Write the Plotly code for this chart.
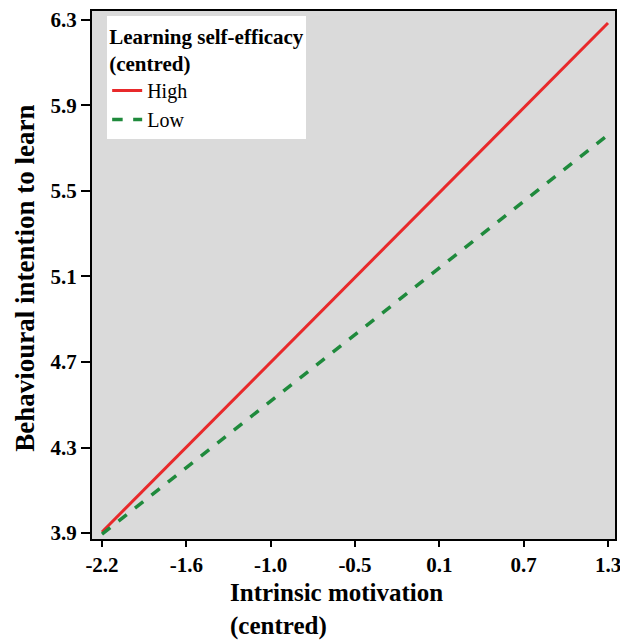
import plotly.graph_objects as go

# Data
x_ends = [-2.2, 1.3]
high_vals = [3.905, 6.286]
low_vals = [3.895, 5.762]
series_names = ["High", "Low"]
x_tick_labels = ["-2.2", "-1.6", "-1.0", "-0.5", "0.1", "0.7", "1.3"]
y_tick_labels = ["3.9", "4.3", "4.7", "5.1", "5.5", "5.9", "6.3"]

n = len(x_tick_labels)
x_tick_vals = [x_ends[0] + i * (x_ends[1] - x_ends[0]) / (n - 1) for i in range(n)]
y_tick_vals = [float(v) for v in y_tick_labels]

FONT = "Liberation Serif, Times New Roman, serif"

fig = go.Figure()
fig.add_trace(go.Scatter(x=x_ends, y=high_vals, mode="lines", name=series_names[0],
                         line=dict(color="#e8292b", width=3)))
fig.add_trace(go.Scatter(x=x_ends, y=low_vals, mode="lines", name=series_names[1],
                         line=dict(color="#1f8a3c", width=3.5, dash="dash")))

xstep = (x_ends[1] - x_ends[0]) / (n - 1)
# page body has an 8px default margin, so the figure is sized/offset for that
fig.update_layout(
    width=620, height=633,
    margin=dict(l=84, r=13, t=0, b=102),
    paper_bgcolor="white",
    plot_bgcolor="#dadada",
    font=dict(family=FONT, color="black"),
    showlegend=True,
    legend=dict(
        x=0.029, y=0.99, xanchor="left", yanchor="top",
        bgcolor="white",
        title=dict(text="<b>Learning self-efficacy<br>(centred)</b>", font=dict(size=21, family=FONT)),
        font=dict(size=20, family=FONT),
        itemwidth=30,
        tracegroupgap=0,
    ),
    xaxis=dict(
        range=[x_ends[0] - xstep * 10 / 84.3, x_ends[1] + xstep * 7 / 84.3],
        tickmode="array", tickvals=x_tick_vals, ticktext=["<b>%s</b>" % t for t in x_tick_labels],
        tickfont=dict(size=21, family=FONT),
        ticks="outside", ticklen=6, tickwidth=2, tickcolor="black",
        showline=True, linewidth=2, linecolor="black", mirror=True,
        showgrid=False, zeroline=False, ticklabeloverflow="allow",
    ),
    yaxis=dict(
        range=[3.9 - 6 * 0.4 / 86, 6.3 + 9 * 0.4 / 86],
        tickmode="array", tickvals=y_tick_vals, ticktext=["<b>%s</b>" % t for t in y_tick_labels],
        tickfont=dict(size=21, family=FONT),
        ticks="outside", ticklen=9, tickwidth=2, tickcolor="black",
        showline=True, linewidth=2, linecolor="black", mirror=True,
        showgrid=False, zeroline=False, ticklabeloverflow="allow",
    ),
    annotations=[
        dict(text="<b>Intrinsic motivation<br>(centred)</b>", xref="paper", yref="paper",
             x=0.26, y=-0.072, xanchor="left", yanchor="top", align="left",
             showarrow=False, font=dict(size=25, family=FONT)),
        dict(text="<b>Behavioural intention to learn</b>", xref="paper", yref="paper",
             x=-0.128, y=0.493, xanchor="center", yanchor="middle", textangle=-90,
             showarrow=False, font=dict(size=27, family=FONT)),
    ],
)

fig.write_html("out.html")
